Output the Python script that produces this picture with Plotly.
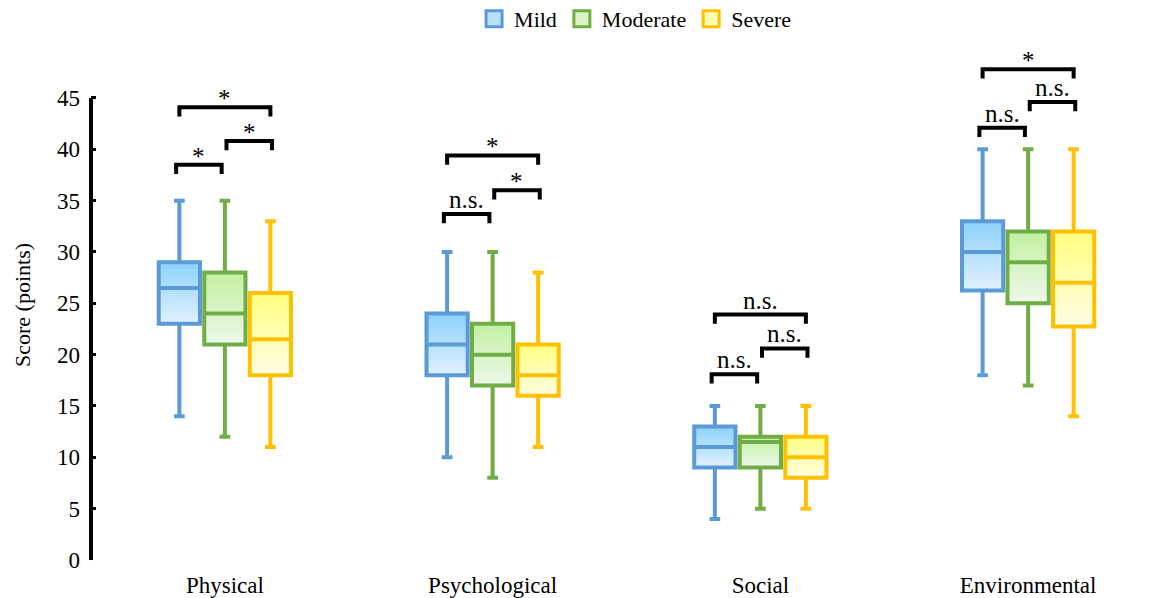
import plotly.graph_objects as go

categories = ["Physical", "Psychological", "Social", "Environmental"]
series = ["Mild", "Moderate", "Severe"]

# box statistics per series (order of categories)
upper = {"Mild": [35, 30, 15, 40], "Moderate": [35, 30, 15, 40], "Severe": [33, 28, 15, 40]}
q3 = {"Mild": [29, 24, 13, 33], "Moderate": [28, 23, 12, 32], "Severe": [26, 21, 12, 32]}
median = {"Mild": [26.5, 21, 11, 30], "Moderate": [24, 20, 11.5, 29], "Severe": [21.5, 18, 10, 27]}
q1 = {"Mild": [23, 18, 9, 26.25], "Moderate": [21, 17, 9, 25], "Severe": [18, 16, 8, 22.75]}
lower = {"Mild": [14, 10, 4, 18], "Moderate": [12, 8, 5, 17], "Severe": [11, 11, 5, 14]}

# significance brackets: pairs (i, j), heights per category, labels per category
bracket_pairs = [(0, 1), (1, 2), (0, 2)]
bracket_heights = [[38.5, 40.8, 44.1], [33.7, 36.0, 39.4], [18.1, 20.6, 23.9], [42.1, 44.6, 47.8]]
bracket_labels = [["*", "*", "*"], ["n.s.", "*", "*"], ["n.s.", "n.s.", "n.s."], ["n.s.", "n.s.", "*"]]

y_ticks = [0, 5, 10, 15, 20, 25, 30, 35, 40, 45]

border = {"Mild": "#5b9bd5", "Moderate": "#70ad47", "Severe": "#ffc000"}
grad_top = {"Mild": "#8dd1fc", "Moderate": "#c2f0a2", "Severe": "#ffff80"}
grad_bot = {"Mild": "#e2f1fe", "Moderate": "#eef8ea", "Severe": "#fffde2"}
legend_fill = {"Mild": "#b9e1fd", "Moderate": "#d8f3c6", "Severe": "#ffffb0"}

FONT = "Liberation Serif, Times New Roman, serif"
spacing = 0.170
bw = 0.154

fig = go.Figure()

for s_i, s in enumerate(series):
    off = (s_i - 1) * spacing
    xs = [g + off for g in range(len(categories))]
    # gradient fills
    for g, x in enumerate(xs):
        fig.add_trace(go.Scatter(
            x=[x - bw / 2, x + bw / 2, x + bw / 2, x - bw / 2, x - bw / 2],
            y=[q1[s][g], q1[s][g], q3[s][g], q3[s][g], q1[s][g]],
            mode="lines", fill="toself", line=dict(width=0),
            fillgradient=dict(type="vertical", colorscale=[[0, grad_bot[s]], [1, grad_top[s]]]),
            hoverinfo="skip", showlegend=False, zorder=0))
    fig.add_trace(go.Box(
        x=xs, q1=q1[s], median=median[s], q3=q3[s],
        lowerfence=lower[s], upperfence=upper[s],
        width=bw, whiskerwidth=0.26, boxpoints=False,
        line=dict(color=border[s], width=4), fillcolor="rgba(0,0,0,0)",
        name=s, showlegend=False, zorder=1))
    # legend entry
    fig.add_trace(go.Scatter(
        x=[None], y=[None], mode="markers", name=s,
        marker=dict(symbol="square", size=18, color=legend_fill[s],
                    line=dict(color=border[s], width=3))))

# brackets
drop = 0.9
bx, by = [], []
annotations = []
for g in range(len(categories)):
    for k, (i, j) in enumerate(bracket_pairs):
        xi = g + (i - 1) * spacing
        xj = g + (j - 1) * spacing
        if k == 0:
            xi -= 0.012; xj -= 0.012
        elif k == 1:
            xi += 0.006; xj += 0.006
        h = bracket_heights[g][k]
        bx += [xi, xi, xj, xj, None]
        by += [h - drop, h, h, h - drop, None]
        lab = bracket_labels[g][k]
        annotations.append(dict(x=(xi + xj) / 2, y=h, xref="x", yref="y",
                                text=lab, showarrow=False,
                                yanchor="bottom", yshift=(-7 if lab == "*" else -1),
                                font=dict(family=FONT, size=25, color="black")))
fig.add_trace(go.Scatter(x=bx, y=by, mode="lines", line=dict(color="black", width=4),
                         hoverinfo="skip", showlegend=False, zorder=2))

fig.update_layout(
    width=1158, height=590,
    margin=dict(l=83, r=4, t=42, b=38, autoexpand=False),
    paper_bgcolor="white", plot_bgcolor="white",
    font=dict(family=FONT, size=22, color="black"),
    showlegend=True,
    legend=dict(orientation="h", x=0.508, xanchor="center", yref="paper", y=1.102, yanchor="top",
                font=dict(family=FONT, size=22, color="black"),
                itemwidth=30, tracegroupgap=0, bgcolor="rgba(0,0,0,0)"),
    xaxis=dict(range=[-0.5, 3.5], tickvals=list(range(len(categories))), ticktext=categories,
               showgrid=False, zeroline=False, showline=True, linecolor="black", linewidth=4,
               ticks="", automargin=False, ticklabelstandoff=1,
               tickfont=dict(family=FONT, size=23, color="black")),
    yaxis=dict(range=[0, 49.67], tickvals=y_ticks, ticktext=[str(t) for t in y_ticks],
               showgrid=False, zeroline=False, showline=False, automargin=False,
               ticks="inside", ticklen=5, tickwidth=3, tickcolor="black",
               ticklabelstandoff=10,
               tickfont=dict(family=FONT, size=23, color="black")),
    annotations=annotations + [dict(
        text="Score (points)", xref="paper", yref="paper", x=-83 / 1071 + 14 / 1071, y=0.5,
        xanchor="center", yanchor="middle", textangle=-90, showarrow=False,
        font=dict(family=FONT, size=22, color="black"))],
    shapes=[dict(type="line", xref="paper", yref="y", x0=0, x1=0, y0=0, y1=max(y_ticks),
                 line=dict(color="black", width=4))],
)

fig.write_html("out.html")
